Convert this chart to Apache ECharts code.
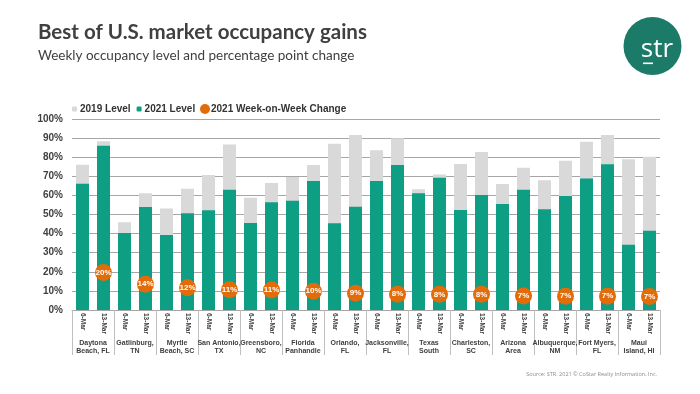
<!DOCTYPE html>
<html><head><meta charset="utf-8">
<script src="https://cdn.jsdelivr.net/npm/echarts@6/dist/echarts.min.js"></script>
<style>html,body{margin:0;padding:0;background:#fff}#c{width:700px;height:394px}</style>
</head><body><div id="c"></div>
<script>
const markets = ['Daytona\nBeach, FL','Gatlinburg,\nTN','Myrtle\nBeach, SC','San Antonio,\nTX','Greensboro,\nNC','Florida\nPanhandle','Orlando,\nFL','Jacksonville,\nFL','Texas\nSouth','Charleston,\nSC','Arizona\nArea','Albuquerque,\nNM','Fort Myers,\nFL','Maui\nIsland, HI'];
const weeks = ['6-Mar','13-Mar'];
const level2019 = [76,88.3,45.9,61.1,53.2,63.5,70.7,86.7,58.8,66.5,69.6,75.9,87.1,91.6,83.6,89.9,63.2,71.0,76.4,82.7,66.0,74.5,67.9,78.2,88.1,91.6,78.9,80.3];
const level2021 = [66.1,86.0,40.3,53.9,39.3,50.6,52.2,63.0,45.5,56.4,57.2,67.5,45.4,54.1,67.5,75.9,61.1,69.3,52.4,60.2,55.5,63.0,52.7,59.7,68.9,76.3,34.2,41.5];
const wowChange = [19.6,13.5,11.6,10.6,10.5,9.8,8.8,8.3,8.2,8.2,7.3,7.2,7.2,7.1];
const yTicks = [0,10,20,30,40,50,60,70,80,90,100];

const weekCats = [];
markets.forEach(() => weeks.forEach(w => weekCats.push(w)));
const wowData = [];
wowChange.forEach(v => { wowData.push('-'); wowData.push(v); });

const dark = '#404040';
const chart = echarts.init(document.getElementById('c'), null, {renderer:'canvas'});
chart.setOption({
  animation:false,
  graphic:[
    {type:'text', left:38, top:22, style:{text:'Best of U.S. market occupancy gains', font:'bold 20.5px Lato', fill:dark}},
    {type:'text', left:38, top:49, style:{text:'Weekly occupancy level and percentage point change', font:'13.5px Lato', fill:dark}},
    {type:'circle', shape:{cx:652.5, cy:46, r:29}, style:{fill:'#1B7B68'}},
    {type:'text', x:657, y:50, style:{text:'str', font:'26px "Open Sans"', fill:'#fff', align:'center', verticalAlign:'middle'}},
    {type:'rect', shape:{x:643, y:62.5, width:10, height:1.6}, style:{fill:'#fff'}},
    {type:'text', x:657, y:374, style:{text:'Source: STR. 2021 \u00A9 CoStar Realty Information, Inc.', font:'5.5px "Open Sans"', fill:'#8c8c8c', align:'right', verticalAlign:'middle'}}
  ],
  legend:[
    {left:72, top:104, itemWidth:5, itemHeight:5, itemGap:6, padding:0,
     data:['2019 Level','2021 Level'],
     textStyle:{fontFamily:'Liberation Sans', fontWeight:'bold', fontSize:10, color:'#333', padding:[0,0,0,-2]}},
    {left:200, top:104, itemWidth:10, itemHeight:10, padding:0,
     data:['2021 Week-on-Week Change'],
     textStyle:{fontFamily:'Liberation Sans', fontWeight:'bold', fontSize:10, color:'#333', padding:[0,0,0,-4]}}
  ],
  grid:{left:72, right:40, top:119, bottom:84, containLabel:false},
  xAxis:[
    {type:'category', data:weekCats, axisLine:{lineStyle:{color:'#A6A6A6'}}, axisTick:{show:false},
     axisLabel:{rotate:-90, interval:0, margin:3, fontFamily:'Liberation Sans', fontWeight:'bold', fontSize:6.5, color:dark}},
    {type:'category', data:markets, position:'bottom', axisLine:{show:false},
     axisTick:{show:true, length:45, interval:0, lineStyle:{color:'#BFBFBF'}},
     axisLabel:{interval:0, margin:29, lineHeight:8, fontFamily:'Liberation Sans', fontWeight:'bold', fontSize:7, color:dark}}
  ],
  yAxis:{type:'value', min:yTicks[0], max:yTicks[yTicks.length-1], interval:10,
    axisLine:{show:false}, axisTick:{show:false},
    splitLine:{lineStyle:{color:'#A6A6A6'}},
    axisLabel:{formatter:'{value}%', margin:9, fontFamily:'Liberation Sans', fontWeight:'bold', fontSize:10, color:dark}},
  series:[
    {name:'2019 Level', type:'bar', xAxisIndex:0, data:level2019, itemStyle:{color:'#D9D9D9'}, barWidth:13, barGap:'-100%'},
    {name:'2021 Level', type:'bar', xAxisIndex:0, data:level2021, itemStyle:{color:'#0E9E84'}, barWidth:13, barGap:'-100%'},
    {name:'2021 Week-on-Week Change', type:'scatter', xAxisIndex:0, data:wowData, symbol:'circle', symbolSize:17,
     itemStyle:{color:'#E36C0A', opacity:1},
     label:{show:true, position:'inside', formatter:p => Math.round(p.value)+'%', color:'#fff', fontFamily:'Liberation Sans', fontWeight:'bold', fontSize:8}}
  ]
});
</script></body></html>
